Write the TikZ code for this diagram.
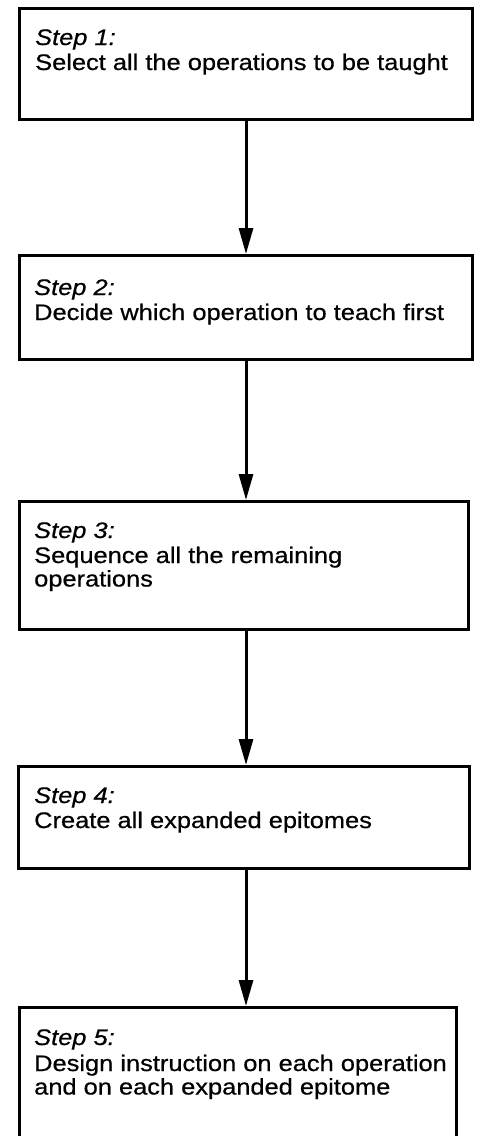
\documentclass[tikz,border=0pt]{standalone}
\usepackage{fontspec}
\setmainfont{Liberation Sans}[FakeStretch=1.13,FakeBold=0.6]
\usetikzlibrary{arrows.meta,calc}
\tikzset{
  stepbox/.style={draw, line width=2.6pt, rectangle, inner sep=0pt, anchor=north west},
  steptext/.style={anchor=base west, inner sep=0pt, font=\fontsize{22.5}{23.5}\selectfont},
  flow/.style={line width=3pt, -{Triangle[length=26pt,width=14pt]}},
}
\begin{document}
\begin{tikzpicture}[x=1pt,y=-1pt]
\useasboundingbox (0,0) rectangle (478,1136);
\fill[white] (0,0) rectangle (478,1136);
\clip (0,0) rectangle (478,1136);
\coordinate (ax) at (246,0);
% boxes
\node[stepbox, minimum width=453pt, minimum height=111pt] (b1) at (18,7) {};
\node[stepbox, minimum width=453pt, minimum height=104pt] (b2) at (18,254) {};
\node[stepbox, minimum width=449pt, minimum height=128pt] (b3) at (18,500) {};
\node[stepbox, minimum width=451pt, minimum height=102pt] (b4) at (17,765) {};
\node[stepbox, minimum width=437pt, minimum height=150pt] (b5) at (18,1006) {};
% texts
\node[steptext] (t1) at ($(b1.north west)+(17,38)$) {\parbox[t]{440pt}{\textit{Step 1:}\\[1.5pt]Select all the operations to be taught}};
\node[steptext] (t2) at ($(b2.north west)+(16,41)$) {\parbox[t]{440pt}{\textit{Step 2:}\\[1.5pt]Decide which operation to teach first}};
\node[steptext] (t3) at ($(b3.north west)+(16,38)$) {\parbox[t]{440pt}{\textit{Step 3:}\\[1.5pt]Sequence all the remaining\\operations}};
\node[steptext] (t4) at ($(b4.north west)+(17,38)$) {\parbox[t]{440pt}{\textit{Step 4:}\\[1.5pt]Create all expanded epitomes}};
\node[steptext] (t5) at ($(b5.north west)+(16,39)$) {\parbox[t]{440pt}{\textit{Step 5:}\\[2.5pt]Design instruction on each operation\\and on each expanded epitome}};
% connectors
\draw[flow] (b1.south -| ax) -- (b2.north -| ax);
\draw[flow] (b2.south -| ax) -- (b3.north -| ax);
\draw[flow] (b3.south -| ax) -- (b4.north -| ax);
\draw[flow] (b4.south -| ax) -- (b5.north -| ax);
\end{tikzpicture}
\end{document}
